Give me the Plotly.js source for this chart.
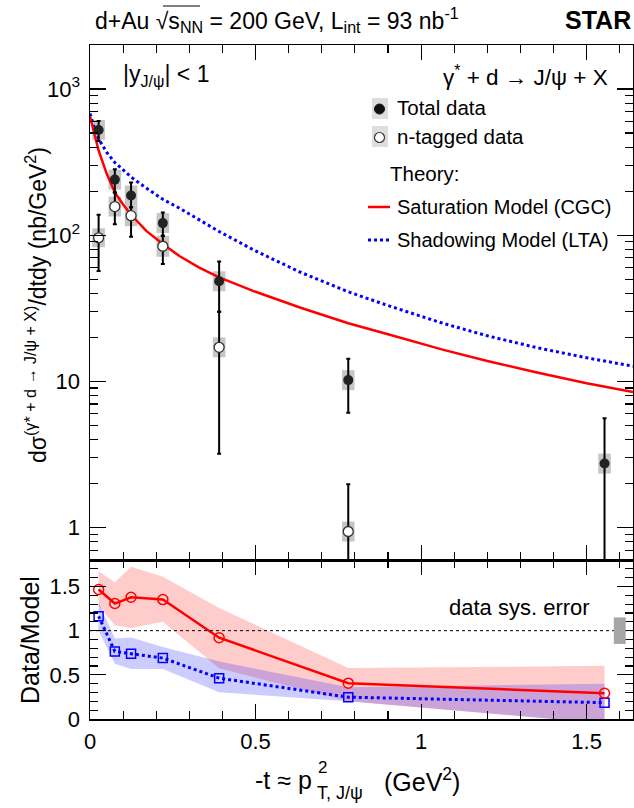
<!DOCTYPE html>
<html>
<head>
<meta charset="utf-8">
<script src="https://cdn.plot.ly/plotly-3.0.1.min.js"></script>
<style>html,body{margin:0;padding:0;background:#fff;}#chart{width:634px;height:808px;}</style>
</head>
<body>
<div id="chart"></div>
<script>
// ---------------- data ----------------
const tTotal   = [0.026, 0.075, 0.124, 0.22, 0.39, 0.78, 1.554];
const totalVal = [525, 240, 187, 121, 48.4, 10.2, 2.74];
const totalHigh= [605, 283, 229, 143, 66, 14.3, 5.6];
const totalLow = [441, 196, 155, 99, 30, 6.1, 0.05];
const totalSys = [0.17, 0.17, 0.17, 0.17, 0.17, 0.17, 0.17];

const tTag     = [0.026, 0.075, 0.124, 0.22, 0.39, 0.78];
const tagVal   = [96, 157, 136, 84, 17.1, 0.94];
const tagHigh  = [138, 196, 155, 99, 30, 1.98];
const tagLow   = [57, 119, 97.7, 63.5, 3.2, 0.05];
const tagSys   = [0.16, 0.17, 0.18, 0.18, 0.17, 0.17];

const tModel   = [0, 0.01, 0.026, 0.05, 0.075, 0.1, 0.124, 0.17, 0.22, 0.27, 0.33, 0.39, 0.5, 0.634, 0.78, 0.9, 1.065, 1.2, 1.35, 1.5, 1.64];
const cgcModel = [650, 520, 380, 265, 196, 162, 138, 107, 87, 72, 60, 51.5, 41, 32, 25, 21, 16.5, 13.8, 11.5, 9.7, 8.45];
const ltaModel = [680, 570, 455, 370, 314, 280, 250, 210, 176, 153, 127, 106, 78, 56, 41, 33, 25, 20.5, 17, 14.5, 12.7];

const ratioCGC   = [1.466, 1.307, 1.378, 1.352, 0.92, 0.406, 0.292];
const ratioLTA   = [1.163, 0.765, 0.739, 0.69, 0.4625, 0.247, 0.185];
const cgcBandUp  = [1.674, 1.549, 1.724, 1.61, 1.258, 0.576, 0.602];
const cgcBandLow = [1.28, 1.06, 1.03, 1.10, 0.575, 0.20, -0.05];
const ltaBandUp  = [1.32, 0.91, 0.924, 0.815, 0.651, 0.36, 0.398];
const ltaBandLow = [1.0, 0.625, 0.565, 0.565, 0.303, 0.20, -0.05];
const dataSysErr = 0.15;

const yTickVals = [1, 10, 100, 1000];
const yTickText = ['1', '10', '10<sup>2</sup>', '10<sup>3</sup>'];
const rTickVals = [0, 0.5, 1, 1.5];
const rTickText = ['0', '0.5', '1', '1.5'];
const xTickVals = [0, 0.5, 1, 1.5];
const xTickText = ['0', '0.5', '1', '1.5'];

// ---------------- geometry helpers (pixel -> paper) ----------------
const W = 634, H = 808, ML = 90, MR = 1, MT = 45, MB = 89;
const PW = W - ML - MR, PH = H - MT - MB;
const xp = px => (px - ML) / PW;
const yp = py => (H - MB - py) / PH;
const split = yp(560);

const FONT = 'Liberation Sans, Arial, Helvetica, sans-serif';
const black = '#000';

// ---------------- traces ----------------
const traces = [];
traces.push({x: tModel, y: ltaModel, xaxis:'x', yaxis:'y', mode:'lines',
  line:{color:'#0000ff', width:3, dash:'3px,3px'}, hoverinfo:'skip'});
traces.push({x: tModel, y: cgcModel, xaxis:'x', yaxis:'y', mode:'lines',
  line:{color:'#ff0000', width:2.5}, hoverinfo:'skip'});
traces.push({x: tTag, y: tagVal, xaxis:'x', yaxis:'y', mode:'markers',
  marker:{symbol:'circle', size:10, color:'#ffffff', line:{color:'#333', width:1.3}},
  error_y:{type:'data', symmetric:false,
    array: tagHigh.map((h,i)=>h-tagVal[i]), arrayminus: tagLow.map((l,i)=>tagVal[i]-l),
    color:black, thickness:2, width:2}});
traces.push({x: tTotal, y: totalVal, xaxis:'x', yaxis:'y', mode:'markers',
  marker:{symbol:'circle', size:10, color:'#222'},
  error_y:{type:'data', symmetric:false,
    array: totalHigh.map((h,i)=>h-totalVal[i]), arrayminus: totalLow.map((l,i)=>totalVal[i]-l),
    color:black, thickness:2, width:2}});

// ratio bands
traces.push({x: tTotal, y: cgcBandLow, xaxis:'x2', yaxis:'y2', mode:'lines', line:{width:0}, hoverinfo:'skip'});
traces.push({x: tTotal, y: cgcBandUp, xaxis:'x2', yaxis:'y2', mode:'lines', line:{width:0},
  fill:'tonexty', fillcolor:'rgba(255,0,0,0.2)', hoverinfo:'skip'});
traces.push({x: tTotal, y: ltaBandLow, xaxis:'x2', yaxis:'y2', mode:'lines', line:{width:0}, hoverinfo:'skip'});
traces.push({x: tTotal, y: ltaBandUp, xaxis:'x2', yaxis:'y2', mode:'lines', line:{width:0},
  fill:'tonexty', fillcolor:'rgba(0,0,255,0.2)', hoverinfo:'skip'});
traces.push({x: tTotal, y: ratioLTA, xaxis:'x2', yaxis:'y2', mode:'lines+markers',
  line:{color:'#0000ff', width:3, dash:'3px,3px'},
  marker:{symbol:'square-open', size:9, color:'#0000ff', line:{width:1.5}}});
traces.push({x: tTotal, y: ratioCGC, xaxis:'x2', yaxis:'y2', mode:'lines+markers',
  line:{color:'#ff0000', width:2.5},
  marker:{symbol:'circle-open', size:10, color:'#ff0000', line:{width:1.5}}});

// ---------------- shapes ----------------
const shapes = [];
const boxHalf = 0.019;
const sysColor = '#c6c6c6';
tTotal.forEach((t,i)=>{
  shapes.push({type:'rect', xref:'x', yref:'y', layer:'below',
    x0:t-boxHalf, x1:t+boxHalf, y0:totalVal[i]/(1+totalSys[i]), y1:totalVal[i]*(1+totalSys[i]),
    fillcolor:sysColor, line:{width:0}});
});
tTag.forEach((t,i)=>{
  shapes.push({type:'rect', xref:'x', yref:'y', layer:'below',
    x0:t-boxHalf, x1:t+boxHalf, y0:tagVal[i]/(1+tagSys[i]), y1:tagVal[i]*(1+tagSys[i]),
    fillcolor:sysColor, line:{width:0}});
});
// reference line at 1
shapes.push({type:'line', xref:'x2 domain', yref:'y2', x0:0, x1:1, y0:1, y1:1,
  line:{color:black, width:1, dash:'3px,3px'}});
// data sys error box
shapes.push({type:'rect', xref:'x2', yref:'y2', x0:1.582, x1:1.618, y0:1-dataSysErr, y1:1+dataSysErr,
  fillcolor:'#a6a6a6', line:{width:0}});
// legend symbols
shapes.push({type:'rect', xref:'paper', yref:'paper', x0:xp(372), x1:xp(388), y0:yp(119), y1:yp(98),
  fillcolor:'#dedede', line:{width:0}});
shapes.push({type:'rect', xref:'paper', yref:'paper', x0:xp(372), x1:xp(388), y0:yp(147), y1:yp(126),
  fillcolor:'#dedede', line:{width:0}});
shapes.push({type:'circle', xref:'paper', yref:'paper', x0:xp(374.5), x1:xp(384.5), y0:yp(114), y1:yp(104),
  fillcolor:'#111', line:{color:'#111', width:1}});
shapes.push({type:'circle', xref:'paper', yref:'paper', x0:xp(374.5), x1:xp(384.5), y0:yp(142.5), y1:yp(132.5),
  fillcolor:'#fff', line:{color:'#333', width:1.2}});
shapes.push({type:'line', xref:'paper', yref:'paper', x0:xp(368), x1:xp(390), y0:yp(207), y1:yp(207),
  line:{color:'#ff0000', width:2.5}});
shapes.push({type:'line', xref:'paper', yref:'paper', x0:xp(368), x1:xp(390), y0:yp(240), y1:yp(240),
  line:{color:'#0000ff', width:3, dash:'3px,3px'}});
// sqrt overline in header
shapes.push({type:'line', xref:'paper', yref:'paper', x0:xp(163), x1:xp(200), y0:yp(6), y1:yp(6),
  line:{color:black, width:1.2}});

// ---------------- annotations ----------------
const ann = (txt, px, py, size, xanchor, extra) => Object.assign({
  text: txt, xref:'paper', yref:'paper', x: xp(px), y: yp(py), xanchor: xanchor || 'left', yanchor:'middle',
  showarrow:false, font:{family:FONT, size:size, color:black}}, extra || {});
const annotations = [
  ann('d+Au √s<sub>NN</sub> = 200 GeV, L<sub>int</sub> = 93 nb<sup>-1</sup>', 277, 20, 23, 'center'),
  ann('<b>STAR</b>', 633, 20, 25, 'right'),
  ann('|y<sub>J/ψ</sub>| < 1', 166, 76, 23, 'center'),
  ann('γ<sup>*</sup> + d → J/ψ + X', 525, 76, 22.5, 'center'),
  ann('Total data', 395, 108, 20.5),
  ann('n-tagged data', 395, 136, 20.5),
  ann('Theory:', 388, 173, 20.5),
  ann('Saturation Model (CGC)', 395, 207, 20),
  ann('Shadowing Model (LTA)', 395, 240, 20),
  ann('data sys. error', 592, 607, 22, 'right'),
  ann('dσ<sup>(γ* + d → J/ψ + X)</sup>/dtdy (nb/GeV<sup>2</sup>)', 36, 305, 23, 'center', {textangle:-90}),
  ann('Data/Model', 30, 640, 25, 'center', {textangle:-90}),
  ann('-t ≈ p', 314, 780, 25, 'right'),
  ann('2', 316, 767, 17, 'left'),
  ann('T, J/ψ', 315, 793, 18, 'left'),
  ann('(GeV<sup>2</sup>)', 422, 780, 25, 'center')
];

// ---------------- axes ----------------
const axCommon = {showgrid:false, zeroline:false, showline:true, linecolor:black, linewidth:1.5,
  ticks:'inside', tickcolor:black, tickwidth:1.2, mirror:'ticks',
  tickfont:{family:FONT, size:22, color:black}};
const layout = {
  width: W, height: H, margin:{l:ML, r:MR, t:MT, b:MB},
  paper_bgcolor:'#fff', plot_bgcolor:'rgba(0,0,0,0)', showlegend:false,
  font:{family:FONT, color:black},
  xaxis: Object.assign({}, axCommon, {domain:[0,1], anchor:'y', range:[0,1.64],
    tickvals:xTickVals, showticklabels:false, ticklen:15,
    minor:{ticks:'inside', ticklen:8, dtick:0.1, tick0:0, tickcolor:black, tickwidth:1.2}}),
  yaxis: Object.assign({}, axCommon, {domain:[split,1], anchor:'x', type:'log',
    range:[Math.log10(0.6), Math.log10(2000)],
    tickvals:yTickVals, ticktext:yTickText, ticklen:16, ticklabelstandoff:4,
    minor:{ticks:'inside', ticklen:8, tickcolor:black, tickwidth:1.2,
      tickvals:[0.6,0.7,0.8,0.9,2,3,4,5,6,7,8,9,20,30,40,50,60,70,80,90,200,300,400,500,600,700,800,900,2000]}}),
  xaxis2: Object.assign({}, axCommon, {domain:[0,1], anchor:'y2', range:[0,1.64],
    tickvals:xTickVals, ticktext:xTickText, ticklen:15, ticklabelstandoff:2,
    minor:{ticks:'inside', ticklen:8, dtick:0.1, tick0:0, tickcolor:black, tickwidth:1.2}}),
  yaxis2: Object.assign({}, axCommon, {domain:[0,split], anchor:'x2', range:[0,1.8],
    tickvals:rTickVals, ticktext:rTickText, ticklen:16, ticklabelstandoff:4,
    minor:{ticks:'inside', ticklen:8, dtick:0.1, tick0:0, tickcolor:black, tickwidth:1.2}}),
  shapes: shapes,
  annotations: annotations
};
Plotly.newPlot('chart', traces, layout, {staticPlot:true, displayModeBar:false});
</script>
</body>
</html>
